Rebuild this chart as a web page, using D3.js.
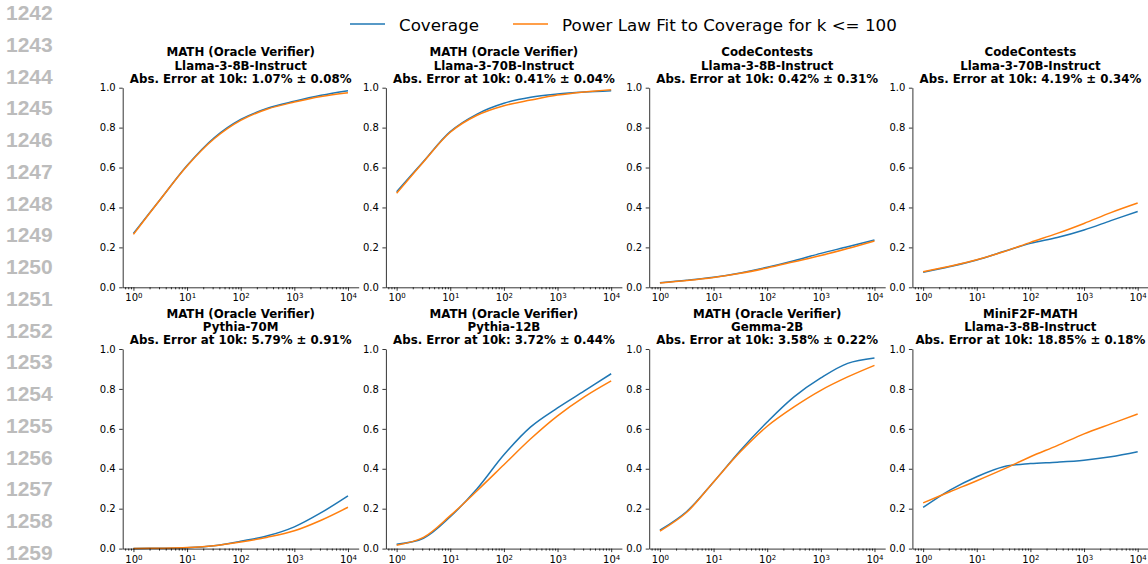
<!DOCTYPE html>
<html>
<head>
<meta charset="utf-8">
<script src="https://cdn.jsdelivr.net/npm/d3@7"></script>
<style>
  body { margin: 0; background: #fff; }
  svg { display: block; font-family: "DejaVu Sans", sans-serif; }
  .line-no { font-family: "Liberation Sans", Arial, sans-serif; font-weight: bold; font-size: 21px; fill: #bcbcbc; }
  .panel-title { font-weight: bold; font-size: 11.8px; fill: #000; }
  .tick text { font-size: 10px; fill: #000; font-family: "DejaVu Sans", sans-serif; }
  .tick line { stroke: #000; stroke-width: 0.8; }
  .domain { stroke: #000; stroke-width: 0.8; }
  .legend text { font-size: 16.7px; fill: #000; }
</style>
</head>
<body>
<div id="chart"></div>
<script>
// samples, one every half decade of k
const kValues = [1, 3.162, 10, 31.62, 100, 316.2, 1000, 3162, 10000];

const titleTask = ['MATH (Oracle Verifier)', 'MATH (Oracle Verifier)', 'CodeContests', 'CodeContests',
                   'MATH (Oracle Verifier)', 'MATH (Oracle Verifier)', 'MATH (Oracle Verifier)', 'MiniF2F-MATH'];
const titleModel = ['Llama-3-8B-Instruct', 'Llama-3-70B-Instruct', 'Llama-3-8B-Instruct', 'Llama-3-70B-Instruct',
                    'Pythia-70M', 'Pythia-12B', 'Gemma-2B', 'Llama-3-8B-Instruct'];
const titleError = ['1.07% ± 0.08%', '0.41% ± 0.04%', '0.42% ± 0.31%', '4.19% ± 0.34%',
                    '5.79% ± 0.91%', '3.72% ± 0.44%', '3.58% ± 0.22%', '18.85% ± 0.18%'];

const coverage = [
  [0.27, 0.44, 0.61, 0.748, 0.841, 0.897, 0.932, 0.962, 0.985],
  [0.479, 0.63, 0.78, 0.868, 0.922, 0.952, 0.968, 0.978, 0.985],
  [0.023, 0.035, 0.05, 0.072, 0.1, 0.133, 0.17, 0.203, 0.237],
  [0.075, 0.104, 0.137, 0.179, 0.22, 0.249, 0.287, 0.334, 0.38],
  [0.001, 0.002, 0.004, 0.014, 0.037, 0.064, 0.109, 0.18, 0.264],
  [0.022, 0.052, 0.16, 0.30, 0.47, 0.61, 0.705, 0.79, 0.876],
  [0.092, 0.186, 0.334, 0.492, 0.634, 0.76, 0.855, 0.928, 0.955],
  [0.206, 0.293, 0.36, 0.41, 0.426, 0.433, 0.443, 0.46, 0.485]
];

const powerLawFit = [
  [0.265, 0.44, 0.608, 0.743, 0.836, 0.893, 0.928, 0.956, 0.975],
  [0.471, 0.628, 0.777, 0.862, 0.91, 0.938, 0.963, 0.979, 0.99],
  [0.022, 0.034, 0.049, 0.07, 0.097, 0.128, 0.159, 0.194, 0.232],
  [0.078, 0.105, 0.138, 0.178, 0.225, 0.27, 0.32, 0.374, 0.422],
  [0.001, 0.002, 0.005, 0.014, 0.033, 0.057, 0.089, 0.142, 0.207],
  [0.017, 0.056, 0.165, 0.29, 0.42, 0.55, 0.665, 0.76, 0.84],
  [0.087, 0.182, 0.334, 0.485, 0.613, 0.71, 0.793, 0.86, 0.918],
  [0.229, 0.285, 0.34, 0.398, 0.46, 0.516, 0.575, 0.625, 0.674]
];

const yTicks = [0, 0.2, 0.4, 0.6, 0.8, 1.0];
const xTicks = [1, 10, 100, 1000, 10000];
const legendLabels = ['Coverage', 'Power Law Fit to Coverage for k <= 100'];
const colors = ['#1f77b4', '#ff7f0e'];

const W = 1148, H = 564;
const svg = d3.select('#chart').append('svg').attr('width', W).attr('height', H);

// page line numbers down the left margin
d3.range(1242, 1260).forEach((n, i) => {
  svg.append('text').attr('class', 'line-no')
    .attr('x', 6).attr('y', 20 + i * 31.76).text(n);
});

// legend
const legend = svg.append('g').attr('class', 'legend');
const legendX = [350, 513];
legendLabels.forEach((lab, i) => {
  legend.append('line').attr('x1', legendX[i]).attr('x2', legendX[i] + 35)
    .attr('y1', 24).attr('y2', 24).attr('stroke', colors[i]).attr('stroke-width', 1.5);
  legend.append('text').attr('x', legendX[i] + 49).attr('y', 30.5).text(lab);
});

const colLeft = [122.7, 385.9, 649.2, 912.4];
const rowTop = [87.7, 349];
const pw = 236, ph = 199.6;

const x = d3.scaleLog().domain([Math.pow(10, -0.2), Math.pow(10, 4.2)]).range([0, pw]);
const y = d3.scaleLinear().domain([0, 1]).range([ph, 0]);

const minorTicks = [];
[0.1, 1, 10, 100, 1000, 10000].forEach(d => {
  for (let m = 2; m <= 9; m++) {
    const v = d * m;
    if (v >= x.domain()[0] && v <= x.domain()[1]) minorTicks.push(v);
  }
});

const line = d3.line()
  .x((d, i) => x(kValues[i]))
  .y(d => y(d))
  .curve(d3.curveCatmullRom.alpha(0.5));

titleTask.forEach((task, p) => {
  const g = svg.append('g')
    .attr('transform', `translate(${colLeft[p % 4]}, ${rowTop[Math.floor(p / 4)]})`);

  // title, three centered lines
  const t = g.append('text').attr('class', 'panel-title').attr('text-anchor', 'middle');
  [task, titleModel[p], 'Abs. Error at 10k: ' + titleError[p]].forEach((s, j) => {
    t.append('tspan').attr('x', pw / 2).attr('y', -31.3 + j * 13.3).text(s);
  });

  [coverage[p], powerLawFit[p]].forEach((vals, s) => {
    g.append('path').datum(vals)
      .attr('fill', 'none').attr('stroke', colors[s]).attr('stroke-width', 1.5)
      .attr('d', line);
  });

  g.append('g').attr('transform', `translate(0, ${ph})`)
    .call(d3.axisBottom(x).tickValues(minorTicks).tickSize(2).tickSizeOuter(0).tickFormat(''))
    .call(a => a.select('.domain').remove());

  const xa = g.append('g').attr('transform', `translate(0, ${ph})`)
    .call(d3.axisBottom(x).tickValues(xTicks).tickSize(3.5).tickSizeOuter(0).tickPadding(3.5)
      .tickFormat(() => ''));
  xa.selectAll('.tick text').each(function (d) {
    const el = d3.select(this);
    el.text('10');
    el.append('tspan').attr('dy', '-0.45em').attr('font-size', '7px').text(Math.round(Math.log10(d)));
  });

  g.append('g')
    .call(d3.axisLeft(y).tickValues(yTicks).tickSize(3.5).tickSizeOuter(0).tickPadding(3.5)
      .tickFormat(d3.format('.1f')));
});
</script>
</body>
</html>
